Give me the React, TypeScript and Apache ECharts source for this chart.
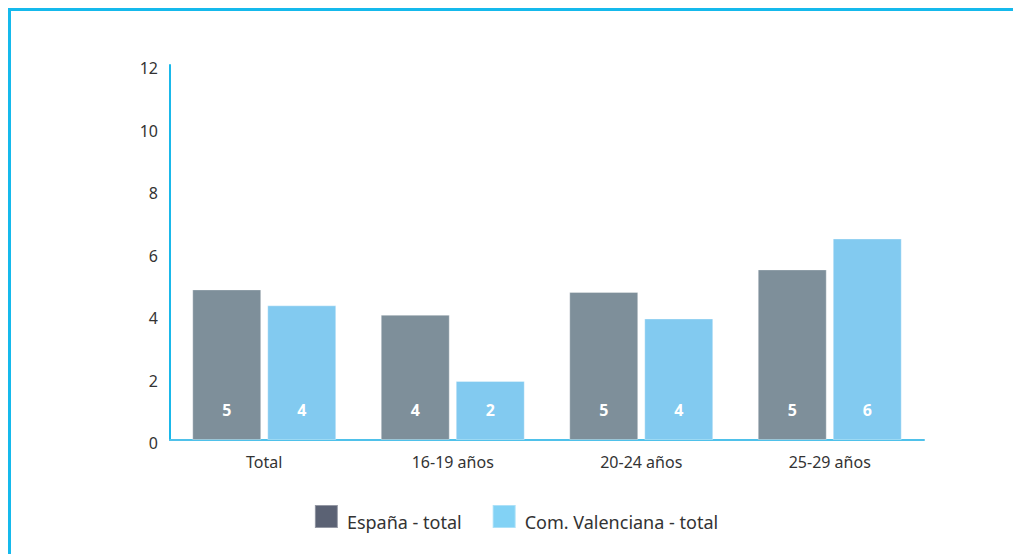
import React, { useEffect, useRef } from "react";
import * as echarts from "echarts";

const categories = ["Total", "16-19 años", "20-24 años", "25-29 años"];
const espana = [4.82, 4.01, 4.74, 5.46];
const valenciana = [4.31, 1.89, 3.89, 6.45];
const yTicks = { min: 0, max: 12, interval: 2 };

const FONT = "Noto Sans";

export default function App() {
  const ref = useRef<HTMLDivElement>(null);
  useEffect(() => {
    document.body.style.overflow = "hidden";
    const chart = echarts.init(ref.current!, null, { renderer: "svg" });
    const labelOpt = {
      show: true,
      position: "insideBottom",
      distance: 22,
      color: "#ffffff",
      fontFamily: FONT,
      fontSize: 16,
      fontWeight: "bold",
      formatter: (p: any) => String(Math.round(p.value)),
    };
    chart.setOption({
      animation: false,
      textStyle: { fontFamily: FONT },
      grid: { left: 159, top: 54, right: 97, bottom: 114 },
      legend: {
        left: "center",
        top: 488,
        itemWidth: 23,
        itemHeight: 23,
        itemGap: 30,
        icon: "rect",
        formatter: "{b| }{a|{name}}",
        textStyle: {
          fontFamily: FONT,
          fontSize: 18,
          color: "#333333",
          rich: {
            a: {
              fontFamily: FONT,
              fontSize: 18,
              color: "#333333",
              lineHeight: 22,
              verticalAlign: "bottom",
            },
            b: { width: 4, height: 28 },
          },
        },
        data: [
          { name: "España - total", itemStyle: { color: "#5b6274" } },
          { name: "Com. Valenciana - total", itemStyle: { color: "#82d2f5" } },
        ],
      },
      xAxis: {
        type: "category",
        data: categories,
        axisLine: { show: true, lineStyle: { color: "#4fc1ea", width: 2 } },
        axisTick: { show: false },
        axisLabel: {
          color: "#333333",
          fontFamily: FONT,
          fontSize: 16,
          margin: 14,
        },
      },
      yAxis: {
        type: "value",
        min: yTicks.min,
        max: yTicks.max,
        interval: yTicks.interval,
        axisLine: { show: true, lineStyle: { color: "#1ab8ea", width: 2 } },
        axisTick: { show: false },
        splitLine: { show: false },
        axisLabel: {
          color: "#333333",
          fontFamily: FONT,
          fontSize: 16,
          margin: 12,
          verticalAlign: "top",
          lineHeight: 6,
        },
      },
      series: [
        {
          name: "España - total",
          type: "bar",
          data: espana,
          barWidth: 69,
          barGap: "8.7%",
          itemStyle: {
            color: "#7e8f9a",
            borderColor: "rgba(255,255,255,0.35)",
            borderWidth: 1,
          },
          label: labelOpt,
        },
        {
          name: "Com. Valenciana - total",
          type: "bar",
          data: valenciana,
          barWidth: 69,
          barGap: "8.7%",
          itemStyle: {
            color: "#82caf0",
            borderColor: "rgba(255,255,255,0.35)",
            borderWidth: 1,
          },
          label: labelOpt,
        },
      ],
    });
    return () => chart.dispose();
  }, []);
  return (
    <div
      style={{
        width: 1010,
        height: 543,
        borderTop: "3px solid #15b9ec",
        borderLeft: "3px solid #15b9ec",
        background: "#ffffff",
      }}
    >
      <div ref={ref} style={{ width: 1010, height: 543 }} />
    </div>
  );
}
